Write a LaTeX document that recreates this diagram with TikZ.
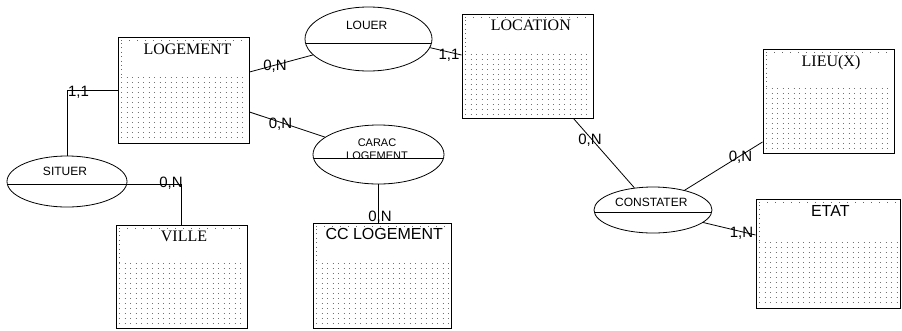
\documentclass[tikz,border=0pt]{standalone}
\usepackage{fontspec}
\setmainfont{Liberation Serif}
\newfontfamily\arialf{Liberation Sans}
\usetikzlibrary{shapes.geometric,fit}
\tikzset{
  entbox/.style={draw=black, line width=1pt, rectangle, inner sep=0pt},
  dotrow/.style={draw=black!60, line width=1pt, dash pattern=on 1pt off 7pt},
  dotcol/.style={draw=black!60, line width=1pt, dash pattern=on 1pt off 3.4pt},
  dotgrid/.style={draw=black!55, line width=1pt, dash pattern=on 1pt off 4.5pt},
  relship/.style={draw=black, line width=0.8pt, ellipse, inner sep=0pt},
  midline/.style={path picture={\draw[line width=0.8pt] ([yshift=-#1]path picture bounding box.west) -- ([yshift=-#1]path picture bounding box.east);}},
  conn/.style={draw=black, line width=0.8pt},
  card/.style={font=\arialf\fontsize{15}{18}\selectfont, anchor=base, inner sep=0pt},
  etxt/.style={font=\arialf\fontsize{12}{14}\selectfont, anchor=base, inner sep=0pt},
  stitle/.style={font=\fontsize{16}{19}\selectfont, anchor=base, inner sep=0pt},
  atitle/.style={font=\arialf\fontsize{16}{19}\selectfont, anchor=base, inner sep=0pt},
}
\newcommand{\entbx}[6]{%
  \node[entbox, fit={(#2,#3)(#4,#5)}] (#1) {};
  \draw[dotrow] (#2+3,#3+3) -- (#4-3,#3+3);
  \draw[dotcol] (#2+3.5,#3+6) -- (#2+3.5,#6);
  \pgfmathtruncatemacro\nrows{(#5-3-#6)/5}
  \foreach \k in {0,...,\nrows} {
    \draw[dotgrid] (#2+3,#6+\k*5) -- (#4-2,#6+\k*5);
  }
}
\begin{document}
\begin{tikzpicture}[x=1pt,y=-1pt]
\useasboundingbox[fill=white] (0,0) rectangle (902,330);

% entities
\entbx{logement}{118}{37}{249}{143}{77}
\node[stitle] (logementt) at (187.5,54) {LOGEMENT};
\entbx{location}{462}{14}{593}{118}{54}
\node[stitle] (locationt) at (530.8,30) {LOCATION};
\entbx{lieu}{763}{49}{894}{153}{88}
\node[stitle] (lieut) at (831,66) {LIEU(X)};
\entbx{etat}{756}{199}{900}{308}{242}
\node[atitle] (etatt) at (830.3,216) {ETAT};
\entbx{ville}{116}{225}{247}{328}{263}
\node[stitle] (villet) at (184,241) {VILLE};
\entbx{cclog}{313}{223}{451}{328}{263}
\node[atitle] (cclogt) at (384.2,239) {CC LOGEMENT};

% relationships
\node[relship, minimum width=120pt, minimum height=51pt, midline=2.5pt] (situer) at (67,181.5) {};
\node[etxt] (situert) at (65,175.3) {SITUER};
\node[relship, minimum width=127pt, minimum height=64pt, midline=4pt] (louer) at (368.5,39) {};
\node[etxt] (louert) at (366.7,29.3) {LOUER};
\node[relship, minimum width=131pt, minimum height=59pt, midline=3.5pt] (carac) at (378.5,154.5) {};
\begin{scope}
  \clip (315,126) rectangle (442,157.6);
  \node[etxt, font=\arialf\fontsize{11}{13}\selectfont] (caract1) at (377,146) {CARAC};
  \node[etxt, font=\arialf\fontsize{11}{13}\selectfont] (caract2) at (377,159.5) {LOGEMENT};
\end{scope}
\node[relship, minimum width=118pt, minimum height=46pt, midline=2pt] (constater) at (653,210) {};
\node[etxt] (constatert) at (651.3,206.7) {CONSTATER};

% connectors
\draw[conn] (logement.west) -| (situer.north);
\draw[conn] ([yshift=-2.5pt]situer.east) -| (ville.north);
\draw[conn] ([yshift=18pt]logement.east) -- (louer.196);
\draw[conn] (louer.-8.6) -- ([yshift=11pt]location.west);
\draw[conn] ([yshift=-22pt]logement.east) -- (carac.162.5);
\draw[conn] (carac.south) -- (carac.south |- cclog.north);
\draw[conn] ([xshift=-20pt]location.south east) -- (constater.130.8);
\draw[conn] (constater.32.8) -- ([yshift=-41pt]lieu.west);
\draw[conn] (constater.-14.9) -- ([yshift=18.5pt]etat.west);

% cardinalities
\node[card] (k1) at (78.5,96) {1,1};
\node[card] (k2) at (171,187.5) {0,N};
\node[card] (k3) at (275,70.5) {0,N};
\node[card] (k4) at (280.5,128) {0,N};
\node[card] (k5) at (449,59) {1,1};
\node[card] (k6) at (380,221.5) {0,N};
\node[card] (k7) at (590,144) {0,N};
\node[card] (k8) at (740.5,161.5) {0,N};
\node[card] (k9) at (741.5,237.5) {1,N};
\end{tikzpicture}
\end{document}
